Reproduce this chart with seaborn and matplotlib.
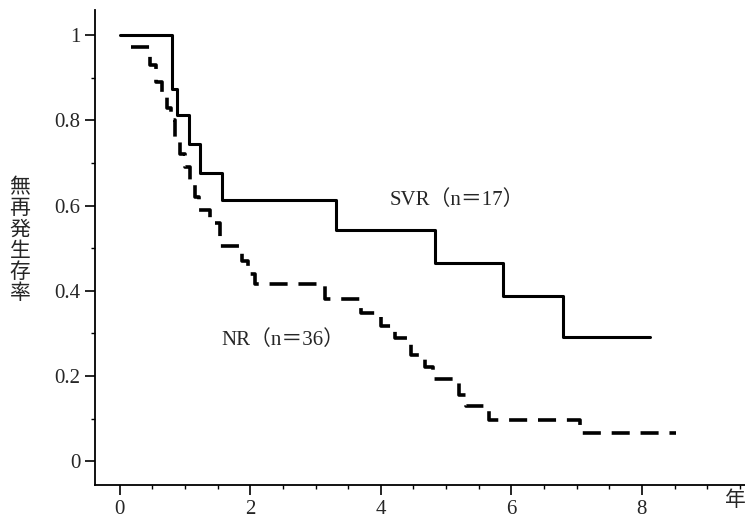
import matplotlib
matplotlib.use("Agg")
import matplotlib.pyplot as plt
from matplotlib.ticker import MultipleLocator
import pandas as pd
import seaborn as sns

# Kaplan-Meier style step data (years, relapse-free survival)
svr_time = [0, 0.80, 0.87, 1.06, 1.23, 1.56, 3.31, 4.83, 5.87, 6.79, 8.12]
svr_surv = [1.0, 0.873, 0.812, 0.744, 0.676, 0.613, 0.542, 0.465, 0.387, 0.291, 0.291]

nr_time = [0.17, 0.47, 0.55, 0.65, 0.72, 0.78, 0.85, 0.92, 1.00, 1.08, 1.15, 1.22,
           1.38, 1.53, 1.87, 1.97, 2.07, 3.14, 3.70, 4.00, 4.22, 4.46, 4.68, 4.80,
           5.20, 5.30, 5.65, 7.05, 8.52]
nr_surv = [0.972, 0.93, 0.89, 0.86, 0.83, 0.80, 0.76, 0.72, 0.69, 0.65, 0.62, 0.59,
           0.56, 0.505, 0.47, 0.44, 0.415, 0.38, 0.347, 0.317, 0.29, 0.25, 0.22, 0.192,
           0.155, 0.13, 0.096, 0.066, 0.066]

x_ticks = [0, 2, 4, 6, 8]
y_ticks = [0, 0.2, 0.4, 0.6, 0.8, 1.0]
y_tick_labels = ["0", "0.2", "0.4", "0.6", "0.8", "1"]

sns.set_style("ticks")
plt.rcParams["font.family"] = ["Liberation Serif", "Noto Sans CJK JP", "DejaVu Sans"]

fig = plt.figure(figsize=(7.45, 5.22), dpi=100)
ax = fig.add_axes([95 / 745, 1 - 485 / 522, 650 / 745, 475 / 522])

svr = pd.DataFrame({"t": svr_time, "s": svr_surv})
nr = pd.DataFrame({"t": nr_time, "s": nr_surv})

sns.lineplot(data=svr, x="t", y="s", drawstyle="steps-post", color="black",
             linewidth=2.2, ax=ax, estimator=None)
sns.lineplot(data=nr, x="t", y="s", drawstyle="steps-post", color="black",
             linewidth=2.6, ax=ax, estimator=None)
ax.lines[1].set_dashes((5, 3))

ax.set_xlim(-0.38, 9.58)
ax.set_ylim(-0.056, 1.059)
ax.set_xticks(x_ticks)
ax.set_yticks(y_ticks)
ax.set_yticklabels(y_tick_labels)
ax.xaxis.set_minor_locator(MultipleLocator(0.5))
ax.yaxis.set_minor_locator(MultipleLocator(0.1))
ax.tick_params(which="major", length=7, width=1.2, labelsize=15, color="black")
ax.tick_params(which="minor", length=3, width=1.0, color="black")
ax.set_xlabel("")
ax.set_ylabel("")
for side in ["top", "right"]:
    ax.spines[side].set_visible(False)
for side in ["left", "bottom"]:
    ax.spines[side].set_linewidth(1.3)
    ax.spines[side].set_color("black")

ax.text(4.14, 0.613, "SVR（n＝17）", fontsize=15, va="center", ha="left")
ax.text(1.56, 0.284, "NR（n＝36）", fontsize=15, va="center", ha="left")

fig.text(20 / 745, 1 - 240 / 522, "\n".join("無再発生存率"), fontsize=15,
         family=["Noto Sans CJK JP"], ha="center", va="center", linespacing=0.95)
fig.text(735 / 745, 1 - 500 / 522, "年", fontsize=15,
         family=["Noto Sans CJK JP"], ha="center", va="center")

fig.savefig("out.png", dpi=100)
